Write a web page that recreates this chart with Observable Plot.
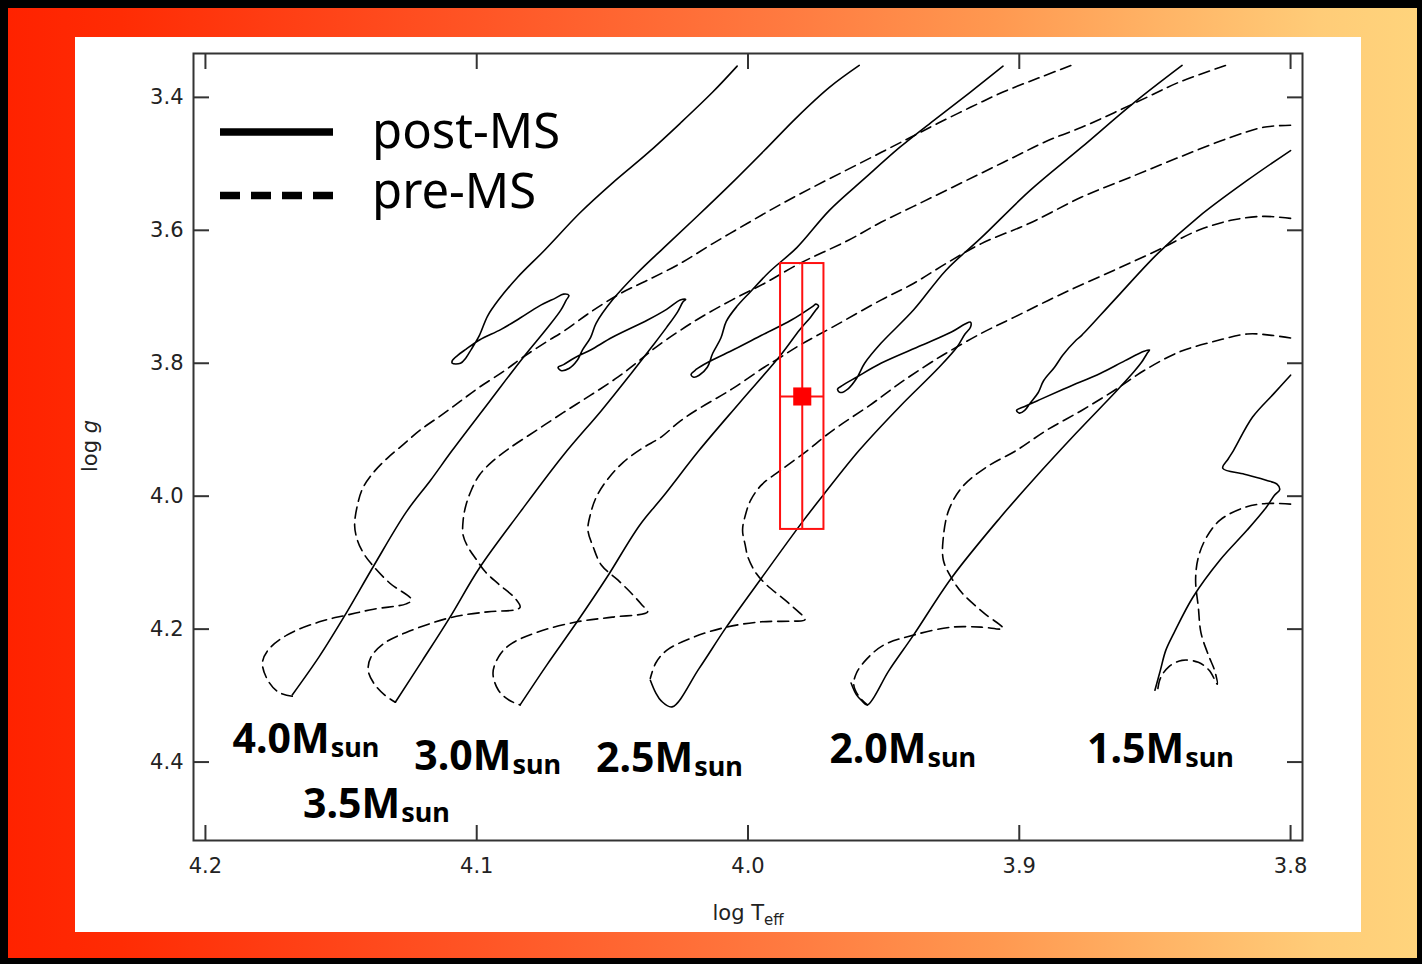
<!DOCTYPE html>
<html>
<head>
<meta charset="utf-8">
<script src="https://cdn.jsdelivr.net/npm/d3@7"></script>
<script src="https://cdn.jsdelivr.net/npm/@observablehq/plot@0.6"></script>
<style>
  html, body { margin: 0; padding: 0; }
  body { width: 1422px; height: 964px; background: #000; position: relative; overflow: hidden; }
  #bg { position: absolute; left: 8px; top: 8px; width: 1409px; height: 950px;
        background: linear-gradient(to right, #ff2200 0%, #ff2c04 8%, #ff3c12 18%, #ff5626 34%, #ff7a40 55%, #ff9850 70%, #ffb466 82%, #ffcc78 93%, #ffd47c 100%); }
  #panel { position: absolute; left: 75px; top: 37px; width: 1286px; height: 895px; background: #fff; }
  #panel svg { display: block; }
  #overlay { position: absolute; left: 0; top: 0; pointer-events: none; }
</style>
</head>
<body>
<div id="bg"></div>
<div id="panel"></div>
<svg id="overlay" width="1422" height="964"></svg>
<script>
// Evolutionary tracks in the (log Teff, log g) plane: [logT, logg]
const post40 = [[4.168,4.299],[4.158,4.241],[4.149,4.182],[4.138,4.105],[4.126,4.024],[4.117,3.976],[4.109,3.931],[4.095,3.856],[4.083,3.792],[4.074,3.747],[4.069,3.720],[4.067,3.705],[4.066,3.698],[4.068,3.696],[4.071,3.702],[4.077,3.714],[4.084,3.732],[4.091,3.749],[4.099,3.765],[4.104,3.779],[4.107,3.788],[4.109,3.796],[4.109,3.800],[4.106,3.800],[4.104,3.792],[4.102,3.779],[4.099,3.758],[4.096,3.729],[4.092,3.705],[4.085,3.671],[4.075,3.630],[4.062,3.574],[4.050,3.529],[4.037,3.484],[4.025,3.439],[4.013,3.392],[4.004,3.353]];
const pre40 = [[3.881,3.352],[3.893,3.371],[3.906,3.392],[3.918,3.415],[3.930,3.439],[3.940,3.460],[3.951,3.483],[3.963,3.508],[3.976,3.535],[3.988,3.561],[4.000,3.589],[4.013,3.620],[4.025,3.650],[4.037,3.675],[4.047,3.695],[4.058,3.723],[4.068,3.752],[4.074,3.767],[4.083,3.791],[4.090,3.812],[4.099,3.836],[4.106,3.857],[4.113,3.878],[4.121,3.901],[4.127,3.922],[4.133,3.943],[4.138,3.964],[4.142,3.988],[4.144,4.014],[4.145,4.044],[4.144,4.066],[4.142,4.084],[4.139,4.101],[4.132,4.131],[4.124,4.156],[4.126,4.162],[4.138,4.170],[4.148,4.179],[4.158,4.189],[4.170,4.209],[4.177,4.232],[4.179,4.251],[4.177,4.277],[4.173,4.295],[4.168,4.301]];

const post35 = [[4.130,4.310],[4.120,4.247],[4.110,4.183],[4.099,4.108],[4.084,4.024],[4.068,3.938],[4.054,3.871],[4.043,3.815],[4.035,3.773],[4.030,3.746],[4.026,3.723],[4.024,3.708],[4.023,3.704],[4.025,3.705],[4.030,3.719],[4.037,3.735],[4.050,3.761],[4.058,3.780],[4.064,3.792],[4.068,3.802],[4.070,3.806],[4.069,3.811],[4.066,3.808],[4.063,3.796],[4.061,3.780],[4.058,3.761],[4.056,3.740],[4.050,3.705],[4.041,3.665],[4.031,3.626],[4.019,3.580],[4.006,3.529],[3.994,3.480],[3.982,3.430],[3.970,3.385],[3.959,3.352]];
const pre35 = [[3.824,3.352],[3.841,3.377],[3.853,3.400],[3.865,3.423],[3.877,3.445],[3.890,3.466],[3.902,3.490],[3.914,3.514],[3.927,3.540],[3.939,3.564],[3.951,3.588],[3.963,3.615],[3.981,3.650],[3.994,3.680],[4.006,3.705],[4.019,3.735],[4.033,3.773],[4.041,3.799],[4.048,3.821],[4.058,3.848],[4.068,3.874],[4.078,3.901],[4.088,3.928],[4.094,3.947],[4.099,3.968],[4.102,3.991],[4.104,4.014],[4.105,4.036],[4.105,4.059],[4.103,4.078],[4.100,4.096],[4.097,4.113],[4.092,4.132],[4.086,4.153],[4.084,4.167],[4.086,4.171],[4.096,4.174],[4.110,4.183],[4.126,4.205],[4.134,4.221],[4.139,4.242],[4.140,4.262],[4.138,4.281],[4.134,4.299],[4.130,4.310]];

const post30 = [[4.084,4.314],[4.074,4.253],[4.063,4.189],[4.052,4.122],[4.040,4.044],[4.031,3.999],[4.018,3.931],[4.003,3.859],[3.988,3.788],[3.981,3.750],[3.977,3.731],[3.975,3.720],[3.974,3.714],[3.975,3.711],[3.976,3.714],[3.984,3.735],[3.995,3.758],[4.005,3.779],[4.014,3.797],[4.019,3.809],[4.021,3.817],[4.020,3.821],[4.018,3.818],[4.015,3.806],[4.013,3.785],[4.010,3.762],[4.008,3.737],[4.004,3.714],[3.999,3.692],[3.992,3.662],[3.982,3.626],[3.970,3.570],[3.957,3.522],[3.944,3.475],[3.931,3.433],[3.918,3.392],[3.906,3.353]];
const pre30 = [[3.800,3.442],[3.810,3.445],[3.822,3.460],[3.841,3.490],[3.859,3.520],[3.877,3.550],[3.896,3.589],[3.914,3.620],[3.927,3.650],[3.939,3.680],[3.951,3.705],[3.969,3.746],[3.981,3.773],[3.988,3.791],[3.994,3.806],[4.006,3.839],[4.018,3.868],[4.025,3.887],[4.032,3.911],[4.039,3.928],[4.046,3.949],[4.052,3.976],[4.056,4.002],[4.058,4.026],[4.059,4.051],[4.057,4.077],[4.054,4.104],[4.048,4.126],[4.043,4.146],[4.039,4.164],[4.037,4.174],[4.050,4.182],[4.063,4.189],[4.078,4.205],[4.088,4.224],[4.092,4.242],[4.094,4.266],[4.092,4.292],[4.088,4.307],[4.084,4.314]];

const post25 = [[4.036,4.277],[4.034,4.296],[4.032,4.308],[4.028,4.317],[4.018,4.259],[4.008,4.197],[3.995,4.123],[3.980,4.039],[3.972,3.997],[3.959,3.931],[3.944,3.865],[3.930,3.808],[3.923,3.776],[3.920,3.756],[3.918,3.746],[3.918,3.738],[3.920,3.741],[3.925,3.753],[3.936,3.773],[3.951,3.800],[3.960,3.821],[3.965,3.833],[3.967,3.839],[3.966,3.844],[3.963,3.838],[3.960,3.823],[3.957,3.800],[3.951,3.770],[3.939,3.720],[3.927,3.660],[3.914,3.611],[3.896,3.540],[3.877,3.475],[3.858,3.409],[3.840,3.352]];
const pre25 = [[3.800,3.582],[3.810,3.579],[3.822,3.585],[3.834,3.600],[3.849,3.630],[3.865,3.660],[3.884,3.695],[3.902,3.731],[3.914,3.755],[3.927,3.785],[3.933,3.800],[3.944,3.830],[3.955,3.863],[3.966,3.893],[3.972,3.911],[3.978,3.931],[3.988,3.961],[3.995,3.983],[3.999,4.006],[4.001,4.029],[4.002,4.051],[4.001,4.074],[4.000,4.092],[3.997,4.116],[3.993,4.134],[3.985,4.161],[3.979,4.186],[3.984,4.188],[3.995,4.189],[4.008,4.197],[4.020,4.212],[4.030,4.232],[4.034,4.251],[4.036,4.274]];

const post20 = [[3.962,4.281],[3.960,4.299],[3.958,4.308],[3.956,4.314],[3.948,4.262],[3.939,4.209],[3.925,4.123],[3.907,4.032],[3.895,3.976],[3.879,3.905],[3.864,3.841],[3.858,3.814],[3.855,3.799],[3.853,3.786],[3.852,3.780],[3.854,3.782],[3.861,3.796],[3.870,3.815],[3.882,3.836],[3.892,3.854],[3.898,3.865],[3.901,3.871],[3.900,3.875],[3.898,3.871],[3.896,3.860],[3.893,3.844],[3.891,3.826],[3.887,3.806],[3.884,3.788],[3.879,3.765],[3.877,3.758],[3.865,3.705],[3.849,3.635],[3.834,3.580],[3.816,3.525],[3.800,3.480]];
const pre20 = [[3.800,3.762],[3.807,3.758],[3.816,3.756],[3.828,3.767],[3.841,3.783],[3.854,3.811],[3.865,3.841],[3.877,3.871],[3.890,3.901],[3.901,3.931],[3.912,3.956],[3.921,3.986],[3.926,4.021],[3.928,4.062],[3.928,4.096],[3.925,4.123],[3.921,4.146],[3.913,4.176],[3.906,4.199],[3.914,4.197],[3.925,4.197],[3.939,4.209],[3.950,4.224],[3.956,4.244],[3.960,4.266],[3.961,4.284],[3.959,4.302],[3.956,4.314]];

const post15 = [[3.850,4.292],[3.848,4.262],[3.846,4.232],[3.843,4.206],[3.836,4.152],[3.826,4.096],[3.816,4.051],[3.809,4.017],[3.806,3.999],[3.804,3.990],[3.805,3.982],[3.809,3.976],[3.817,3.967],[3.825,3.958],[3.823,3.944],[3.821,3.931],[3.814,3.881],[3.806,3.845],[3.800,3.818]];
const pre15 = [[3.800,4.012],[3.809,4.011],[3.817,4.017],[3.826,4.036],[3.831,4.062],[3.834,4.092],[3.835,4.126],[3.834,4.167],[3.833,4.206],[3.830,4.242],[3.828,4.262],[3.827,4.283],[3.830,4.262],[3.834,4.250],[3.840,4.247],[3.845,4.257],[3.848,4.274],[3.849,4.292]];

// Mass labels, placed at the lower-left corner of each label
const masses = ["4.0", "3.5", "3.0", "2.5", "2.0", "1.5"];
const labelLogT = [4.190, 4.164, 4.123, 4.056, 3.970, 3.875];
const labelLogg = [4.387, 4.484, 4.412, 4.415, 4.402, 4.402];

// Observed star: log Teff and log g with their uncertainties
const obsLogT = 3.980, obsLogTErr = 0.008;
const obsLogg = 3.85, obsLoggErr = 0.20;

// Axis ticks
const xTicks = [4.2, 4.1, 4.0, 3.9, 3.8];
const yTicks = [3.4, 3.6, 3.8, 4.0, 4.2, 4.4];

// Legend entries
const legendItems = [{label: "post-MS", phase: "post"}, {label: "pre-MS", phase: "pre"}];

const tracks = [
  {mass: "4.0", phase: "post", points: post40}, {mass: "4.0", phase: "pre", points: pre40},
  {mass: "3.5", phase: "post", points: post35}, {mass: "3.5", phase: "pre", points: pre35},
  {mass: "3.0", phase: "post", points: post30}, {mass: "3.0", phase: "pre", points: pre30},
  {mass: "2.5", phase: "post", points: post25}, {mass: "2.5", phase: "pre", points: pre25},
  {mass: "2.0", phase: "post", points: post20}, {mass: "2.0", phase: "pre", points: pre20},
  {mass: "1.5", phase: "post", points: post15}, {mass: "1.5", phase: "pre", points: pre15}
];
const rows = tracks.flatMap(t => t.points.map(([logT, logg]) => ({id: t.mass + t.phase, phase: t.phase, logT, logg})));
const labels = masses.map((m, i) => ({mass: m, logT: labelLogT[i], logg: labelLogg[i]}));
const obs = [{logT: obsLogT, dT: obsLogTErr, logg: obsLogg, dg: obsLoggErr}];

const fmt = d3.format(".1f");
const axisStyle = {stroke: "#333", strokeWidth: 2, fill: "#222", fontSize: 21, label: null};

const chart = Plot.plot({
  width: 1286,
  height: 895,
  marginLeft: 118,
  marginRight: 59,
  marginTop: 16,
  marginBottom: 92,
  x: {domain: [4.2044, 3.7956]},
  y: {domain: [4.518, 3.334]},
  style: {background: "transparent", fontFamily: "DejaVu Sans", color: "#222", overflow: "visible"},
  marks: [
    Plot.axisX(xTicks, {anchor: "bottom", tickSize: -15, tickPadding: 33, tickFormat: fmt, ...axisStyle}),
    Plot.axisX(xTicks, {anchor: "top", tickSize: -15, tickFormat: () => "", ...axisStyle}),
    Plot.axisY(yTicks, {anchor: "left", tickSize: -16, tickPadding: 26, tickFormat: fmt, ...axisStyle}),
    Plot.axisY(yTicks, {anchor: "right", tickSize: -16, tickFormat: () => "", ...axisStyle}),
    Plot.frame({stroke: "#333", strokeWidth: 2}),
    Plot.line(rows.filter(d => d.phase === "pre"), {
      x: "logT", y: "logg", z: "id", stroke: "#000", strokeWidth: 1.6,
      strokeDasharray: "11,6", curve: "catmull-rom"
    }),
    Plot.line(rows.filter(d => d.phase === "post"), {
      x: "logT", y: "logg", z: "id", stroke: "#000", strokeWidth: 1.6, curve: "catmull-rom"
    }),
    Plot.rect(obs, {
      x1: d => d.logT + d.dT, x2: d => d.logT - d.dT,
      y1: d => d.logg - d.dg, y2: d => d.logg + d.dg,
      fill: "none", stroke: "#ff1010", strokeWidth: 2
    }),
    Plot.ruleX(obs, {x: "logT", y1: d => d.logg - d.dg, y2: d => d.logg + d.dg, stroke: "#ff1010", strokeWidth: 2}),
    Plot.ruleY(obs, {y: "logg", x1: d => d.logT + d.dT, x2: d => d.logT - d.dT, stroke: "#ff1010", strokeWidth: 2}),
    Plot.dot(obs, {x: "logT", y: "logg", symbol: "square", r: 10.2, fill: "#f00", stroke: "none"}),
    Plot.text(labels, {
      x: "logT", y: "logg", text: "mass", textAnchor: "start", lineAnchor: "bottom",
      fontSize: 41, fontWeight: "bold", fontFamily: "Noto Sans", fill: "#000"
    })
  ]
});

// Mass labels get an "M" and a "sun" subscript
d3.select(chart).selectAll('g[aria-label="text"] text').each(function() {
  const m = this.textContent;
  if (!masses.includes(m)) return;
  const t = d3.select(this).text("");
  t.append("tspan").text(m + "M");
  t.append("tspan").attr("font-size", 27).attr("dy", 4).attr("dx", 1).text("sun");
});

document.getElementById("panel").appendChild(chart);

// Legend and axis titles
const ov = d3.select("#overlay");
legendItems.forEach((item, i) => {
  const y = 132 + i * 63.5;
  ov.append("line")
    .attr("x1", 220).attr("x2", 333).attr("y1", y).attr("y2", y)
    .attr("stroke", "#000").attr("stroke-width", 7.5)
    .attr("stroke-dasharray", item.phase === "pre" ? "20 11" : null);
  ov.append("text")
    .attr("x", 372).attr("y", y + 16 - i * 3.5)
    .attr("font-family", "Noto Sans").attr("font-size", 49).attr("fill", "#000")
    .text(item.label);
});

const yTitle = ov.append("text")
  .attr("transform", "translate(97,446) rotate(-90)")
  .attr("text-anchor", "middle")
  .attr("font-family", "DejaVu Sans").attr("font-size", 21).attr("fill", "#222");
yTitle.append("tspan").text("log ");
yTitle.append("tspan").attr("font-style", "italic").text("g");

const xTitle = ov.append("text")
  .attr("x", 748).attr("y", 920)
  .attr("text-anchor", "middle")
  .attr("font-family", "DejaVu Sans").attr("font-size", 21).attr("fill", "#222");
xTitle.append("tspan").text("log T");
xTitle.append("tspan").attr("font-size", 15).attr("dy", 5).text("eff");
</script>
</body>
</html>
